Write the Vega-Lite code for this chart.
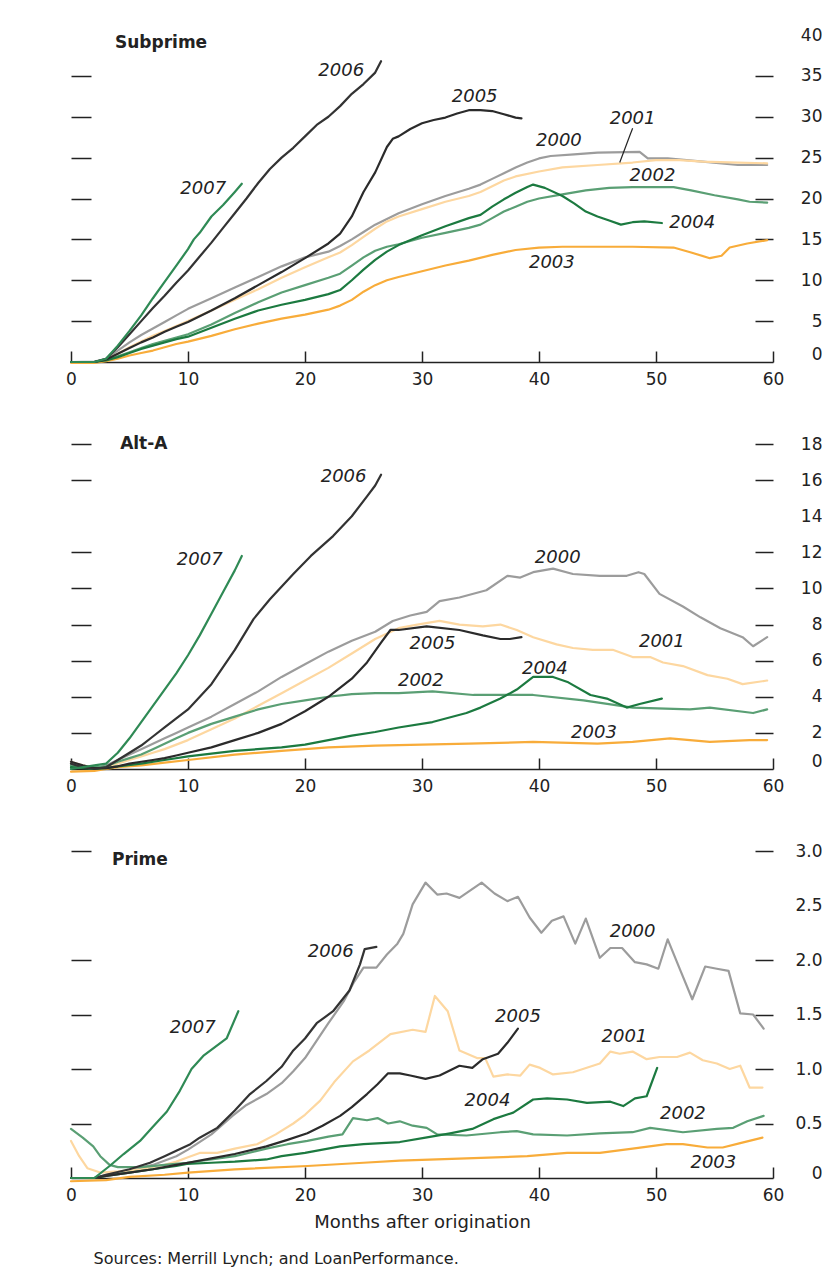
{
"$schema": "https://vega.github.io/schema/vega-lite/v6.json",
"background": "white",
"padding": {"left": 65, "top": 26, "right": 0, "bottom": 0},
"autosize": {"type": "pad"},
"bounds": "flush",
"spacing": 82,
"title": {"text": "Sources: Merrill Lynch; and LoanPerformance.", "orient": "bottom", "anchor": "start", "fontSize": 16, "fontWeight": "normal", "font": "DejaVu Sans", "color": "#222", "offset": 20, "dx": 28},
"datasets": {
"sub": [
{"s":"2000","m":0,"v":0},{"s":"2000","m":2,"v":0.05},{"s":"2000","m":3,"v":0.4},{"s":"2000","m":4,"v":1.4},{"s":"2000","m":5,"v":2.4},{"s":"2000","m":6,"v":3.3},{"s":"2000","m":7,"v":4.1},{"s":"2000","m":8,"v":4.9},{"s":"2000","m":9,"v":5.7},{"s":"2000","m":10,"v":6.5},{"s":"2000","m":12,"v":7.8},{"s":"2000","m":14,"v":9.1},{"s":"2000","m":16,"v":10.4},{"s":"2000","m":18,"v":11.7},{"s":"2000","m":20,"v":12.8},{"s":"2000","m":22,"v":13.5},{"s":"2000","m":23,"v":14.2},{"s":"2000","m":24,"v":15.0},{"s":"2000","m":25,"v":15.9},{"s":"2000","m":26,"v":16.8},{"s":"2000","m":27,"v":17.5},{"s":"2000","m":28,"v":18.2},{"s":"2000","m":30,"v":19.3},{"s":"2000","m":32,"v":20.3},{"s":"2000","m":34,"v":21.2},{"s":"2000","m":35,"v":21.7},{"s":"2000","m":36,"v":22.4},{"s":"2000","m":37,"v":23.1},{"s":"2000","m":38,"v":23.8},{"s":"2000","m":39,"v":24.4},{"s":"2000","m":40,"v":24.9},{"s":"2000","m":41,"v":25.2},{"s":"2000","m":43,"v":25.4},{"s":"2000","m":45,"v":25.6},{"s":"2000","m":48.6,"v":25.7},{"s":"2000","m":49.3,"v":24.9},{"s":"2000","m":51,"v":24.9},{"s":"2000","m":54,"v":24.5},{"s":"2000","m":57,"v":24.1},{"s":"2000","m":59.5,"v":24.1},
{"s":"2001","m":0,"v":0},{"s":"2001","m":2,"v":0},{"s":"2001","m":3,"v":0.3},{"s":"2001","m":4,"v":1.0},{"s":"2001","m":5,"v":1.8},{"s":"2001","m":6,"v":2.5},{"s":"2001","m":7,"v":3.2},{"s":"2001","m":8,"v":3.8},{"s":"2001","m":9,"v":4.4},{"s":"2001","m":10,"v":5.0},{"s":"2001","m":12,"v":6.3},{"s":"2001","m":14,"v":7.6},{"s":"2001","m":16,"v":8.9},{"s":"2001","m":18,"v":10.3},{"s":"2001","m":20,"v":11.6},{"s":"2001","m":22,"v":12.8},{"s":"2001","m":23,"v":13.4},{"s":"2001","m":24,"v":14.3},{"s":"2001","m":25,"v":15.3},{"s":"2001","m":26,"v":16.3},{"s":"2001","m":27,"v":17.2},{"s":"2001","m":28,"v":17.8},{"s":"2001","m":30,"v":18.7},{"s":"2001","m":32,"v":19.6},{"s":"2001","m":34,"v":20.3},{"s":"2001","m":35,"v":20.8},{"s":"2001","m":36,"v":21.5},{"s":"2001","m":37,"v":22.2},{"s":"2001","m":38,"v":22.7},{"s":"2001","m":40,"v":23.3},{"s":"2001","m":42,"v":23.8},{"s":"2001","m":45,"v":24.1},{"s":"2001","m":48,"v":24.4},{"s":"2001","m":50,"v":24.7},{"s":"2001","m":52,"v":24.7},{"s":"2001","m":54,"v":24.5},{"s":"2001","m":57,"v":24.4},{"s":"2001","m":59.5,"v":24.3},
{"s":"2002","m":0,"v":0},{"s":"2002","m":2,"v":0},{"s":"2002","m":3,"v":0.2},{"s":"2002","m":4,"v":0.7},{"s":"2002","m":5,"v":1.2},{"s":"2002","m":6,"v":1.7},{"s":"2002","m":7,"v":2.2},{"s":"2002","m":8,"v":2.6},{"s":"2002","m":9,"v":3.0},{"s":"2002","m":10,"v":3.4},{"s":"2002","m":12,"v":4.6},{"s":"2002","m":14,"v":6.0},{"s":"2002","m":16,"v":7.3},{"s":"2002","m":18,"v":8.5},{"s":"2002","m":20,"v":9.4},{"s":"2002","m":22,"v":10.3},{"s":"2002","m":23,"v":10.8},{"s":"2002","m":24,"v":11.8},{"s":"2002","m":25,"v":12.8},{"s":"2002","m":26,"v":13.6},{"s":"2002","m":27,"v":14.1},{"s":"2002","m":28,"v":14.4},{"s":"2002","m":30,"v":15.2},{"s":"2002","m":32,"v":15.8},{"s":"2002","m":34,"v":16.4},{"s":"2002","m":35,"v":16.8},{"s":"2002","m":36,"v":17.6},{"s":"2002","m":37,"v":18.4},{"s":"2002","m":38,"v":19.0},{"s":"2002","m":39,"v":19.6},{"s":"2002","m":40,"v":20.0},{"s":"2002","m":42,"v":20.5},{"s":"2002","m":44,"v":21.0},{"s":"2002","m":46,"v":21.3},{"s":"2002","m":48,"v":21.4},{"s":"2002","m":51.5,"v":21.4},{"s":"2002","m":53,"v":21.0},{"s":"2002","m":55,"v":20.4},{"s":"2002","m":57,"v":19.9},{"s":"2002","m":58,"v":19.6},{"s":"2002","m":59.5,"v":19.5},
{"s":"2003","m":0,"v":-0.1},{"s":"2003","m":2,"v":-0.1},{"s":"2003","m":3,"v":0.1},{"s":"2003","m":4,"v":0.4},{"s":"2003","m":5,"v":0.8},{"s":"2003","m":6,"v":1.1},{"s":"2003","m":7,"v":1.4},{"s":"2003","m":8,"v":1.8},{"s":"2003","m":9,"v":2.2},{"s":"2003","m":10,"v":2.5},{"s":"2003","m":12,"v":3.2},{"s":"2003","m":14,"v":4.0},{"s":"2003","m":16,"v":4.7},{"s":"2003","m":18,"v":5.3},{"s":"2003","m":20,"v":5.8},{"s":"2003","m":22,"v":6.4},{"s":"2003","m":23,"v":6.9},{"s":"2003","m":24,"v":7.6},{"s":"2003","m":25,"v":8.6},{"s":"2003","m":26,"v":9.4},{"s":"2003","m":27,"v":10.0},{"s":"2003","m":28,"v":10.4},{"s":"2003","m":30,"v":11.1},{"s":"2003","m":32,"v":11.8},{"s":"2003","m":34,"v":12.4},{"s":"2003","m":36,"v":13.1},{"s":"2003","m":38,"v":13.7},{"s":"2003","m":40,"v":14.0},{"s":"2003","m":42,"v":14.1},{"s":"2003","m":48,"v":14.1},{"s":"2003","m":51.5,"v":14.0},{"s":"2003","m":53,"v":13.4},{"s":"2003","m":54.6,"v":12.7},{"s":"2003","m":55.6,"v":13.0},{"s":"2003","m":56.3,"v":14.0},{"s":"2003","m":57.8,"v":14.5},{"s":"2003","m":59.5,"v":14.9},
{"s":"2004","m":0,"v":0},{"s":"2004","m":2,"v":0},{"s":"2004","m":3,"v":0.2},{"s":"2004","m":4,"v":0.6},{"s":"2004","m":5,"v":1.1},{"s":"2004","m":6,"v":1.6},{"s":"2004","m":7,"v":2.0},{"s":"2004","m":8,"v":2.4},{"s":"2004","m":9,"v":2.8},{"s":"2004","m":10,"v":3.1},{"s":"2004","m":12,"v":4.2},{"s":"2004","m":14,"v":5.3},{"s":"2004","m":16,"v":6.3},{"s":"2004","m":18,"v":7.0},{"s":"2004","m":20,"v":7.6},{"s":"2004","m":22,"v":8.3},{"s":"2004","m":23,"v":8.8},{"s":"2004","m":24,"v":10.0},{"s":"2004","m":25,"v":11.3},{"s":"2004","m":26,"v":12.5},{"s":"2004","m":27,"v":13.5},{"s":"2004","m":28,"v":14.3},{"s":"2004","m":30,"v":15.5},{"s":"2004","m":32,"v":16.6},{"s":"2004","m":34,"v":17.6},{"s":"2004","m":35,"v":18.0},{"s":"2004","m":36,"v":19.0},{"s":"2004","m":37,"v":19.9},{"s":"2004","m":38,"v":20.7},{"s":"2004","m":39,"v":21.4},{"s":"2004","m":39.5,"v":21.7},{"s":"2004","m":40.5,"v":21.3},{"s":"2004","m":42,"v":20.3},{"s":"2004","m":43,"v":19.4},{"s":"2004","m":44,"v":18.4},{"s":"2004","m":45,"v":17.8},{"s":"2004","m":46,"v":17.3},{"s":"2004","m":47,"v":16.8},{"s":"2004","m":48,"v":17.1},{"s":"2004","m":49,"v":17.2},{"s":"2004","m":50.5,"v":17.0},
{"s":"2005","m":0,"v":0},{"s":"2005","m":2,"v":0},{"s":"2005","m":3,"v":0.3},{"s":"2005","m":4,"v":1.0},{"s":"2005","m":5,"v":1.7},{"s":"2005","m":6,"v":2.4},{"s":"2005","m":7,"v":3.0},{"s":"2005","m":8,"v":3.7},{"s":"2005","m":9,"v":4.3},{"s":"2005","m":10,"v":4.9},{"s":"2005","m":12,"v":6.3},{"s":"2005","m":14,"v":7.8},{"s":"2005","m":16,"v":9.4},{"s":"2005","m":18,"v":11.0},{"s":"2005","m":20,"v":12.7},{"s":"2005","m":22,"v":14.5},{"s":"2005","m":23,"v":15.7},{"s":"2005","m":24,"v":17.8},{"s":"2005","m":25,"v":20.8},{"s":"2005","m":26,"v":23.2},{"s":"2005","m":27,"v":26.3},{"s":"2005","m":27.5,"v":27.3},{"s":"2005","m":28,"v":27.6},{"s":"2005","m":29,"v":28.5},{"s":"2005","m":30,"v":29.2},{"s":"2005","m":31,"v":29.6},{"s":"2005","m":32,"v":29.9},{"s":"2005","m":33,"v":30.4},{"s":"2005","m":34,"v":30.8},{"s":"2005","m":35,"v":30.8},{"s":"2005","m":36,"v":30.7},{"s":"2005","m":37,"v":30.3},{"s":"2005","m":38,"v":29.9},{"s":"2005","m":38.5,"v":29.8},
{"s":"2006","m":0,"v":0},{"s":"2006","m":2,"v":0},{"s":"2006","m":3,"v":0.4},{"s":"2006","m":4,"v":1.8},{"s":"2006","m":5,"v":3.4},{"s":"2006","m":6,"v":5.0},{"s":"2006","m":7,"v":6.6},{"s":"2006","m":8,"v":8.1},{"s":"2006","m":9,"v":9.7},{"s":"2006","m":10,"v":11.2},{"s":"2006","m":11,"v":12.9},{"s":"2006","m":12,"v":14.6},{"s":"2006","m":13,"v":16.4},{"s":"2006","m":14,"v":18.2},{"s":"2006","m":15,"v":20.0},{"s":"2006","m":16,"v":21.9},{"s":"2006","m":17,"v":23.6},{"s":"2006","m":18,"v":25.0},{"s":"2006","m":19,"v":26.2},{"s":"2006","m":20,"v":27.6},{"s":"2006","m":21,"v":29.0},{"s":"2006","m":22,"v":30.0},{"s":"2006","m":23,"v":31.3},{"s":"2006","m":24,"v":32.8},{"s":"2006","m":25,"v":34.0},{"s":"2006","m":26,"v":35.4},{"s":"2006","m":26.5,"v":36.8},
{"s":"2007","m":0,"v":0},{"s":"2007","m":2,"v":0},{"s":"2007","m":3,"v":0.4},{"s":"2007","m":4,"v":2.0},{"s":"2007","m":5,"v":3.8},{"s":"2007","m":6,"v":5.7},{"s":"2007","m":7,"v":7.8},{"s":"2007","m":8,"v":9.8},{"s":"2007","m":9,"v":11.8},{"s":"2007","m":10,"v":13.8},{"s":"2007","m":10.5,"v":15.0},{"s":"2007","m":11,"v":15.8},{"s":"2007","m":12,"v":17.8},{"s":"2007","m":13,"v":19.2},{"s":"2007","m":14,"v":20.8},{"s":"2007","m":14.6,"v":21.8}
],
"alt": [
{"s":"2000","m":0,"v":0.3},{"s":"2000","m":1,"v":0.1},{"s":"2000","m":2,"v":0},{"s":"2000","m":3,"v":0.2},{"s":"2000","m":4,"v":0.5},{"s":"2000","m":5,"v":0.8},{"s":"2000","m":6,"v":1.1},{"s":"2000","m":7,"v":1.4},{"s":"2000","m":8,"v":1.7},{"s":"2000","m":9,"v":2.0},{"s":"2000","m":10,"v":2.3},{"s":"2000","m":12,"v":2.9},{"s":"2000","m":14,"v":3.6},{"s":"2000","m":16,"v":4.3},{"s":"2000","m":18,"v":5.1},{"s":"2000","m":20,"v":5.8},{"s":"2000","m":22,"v":6.5},{"s":"2000","m":24,"v":7.1},{"s":"2000","m":26,"v":7.6},{"s":"2000","m":27.5,"v":8.2},{"s":"2000","m":29,"v":8.5},{"s":"2000","m":30.4,"v":8.7},{"s":"2000","m":31.5,"v":9.3},{"s":"2000","m":33.2,"v":9.5},{"s":"2000","m":35.5,"v":9.9},{"s":"2000","m":37.3,"v":10.7},{"s":"2000","m":38.4,"v":10.6},{"s":"2000","m":39.5,"v":10.9},{"s":"2000","m":41.2,"v":11.1},{"s":"2000","m":42.9,"v":10.8},{"s":"2000","m":45.2,"v":10.7},{"s":"2000","m":47.5,"v":10.7},{"s":"2000","m":48.5,"v":10.9},{"s":"2000","m":49,"v":10.8},{"s":"2000","m":50.3,"v":9.7},{"s":"2000","m":52.3,"v":9.0},{"s":"2000","m":53.8,"v":8.4},{"s":"2000","m":55.5,"v":7.8},{"s":"2000","m":57.4,"v":7.3},{"s":"2000","m":58.3,"v":6.8},{"s":"2000","m":59.5,"v":7.3},
{"s":"2001","m":0,"v":0.4},{"s":"2001","m":1,"v":0.2},{"s":"2001","m":2,"v":0.05},{"s":"2001","m":3,"v":0.1},{"s":"2001","m":4,"v":0.3},{"s":"2001","m":5,"v":0.5},{"s":"2001","m":6,"v":0.7},{"s":"2001","m":7,"v":0.9},{"s":"2001","m":8,"v":1.1},{"s":"2001","m":9,"v":1.35},{"s":"2001","m":10,"v":1.6},{"s":"2001","m":12,"v":2.2},{"s":"2001","m":14,"v":2.8},{"s":"2001","m":16,"v":3.5},{"s":"2001","m":18,"v":4.2},{"s":"2001","m":20,"v":4.9},{"s":"2001","m":22,"v":5.6},{"s":"2001","m":24,"v":6.4},{"s":"2001","m":26,"v":7.2},{"s":"2001","m":28,"v":7.8},{"s":"2001","m":29.6,"v":8.0},{"s":"2001","m":31.5,"v":8.2},{"s":"2001","m":33.2,"v":8.0},{"s":"2001","m":35.2,"v":7.9},{"s":"2001","m":36.7,"v":8.0},{"s":"2001","m":38.1,"v":7.7},{"s":"2001","m":39.5,"v":7.3},{"s":"2001","m":41.5,"v":6.9},{"s":"2001","m":42.9,"v":6.7},{"s":"2001","m":44.6,"v":6.6},{"s":"2001","m":46.3,"v":6.6},{"s":"2001","m":48,"v":6.2},{"s":"2001","m":49.5,"v":6.2},{"s":"2001","m":50.6,"v":5.9},{"s":"2001","m":52.3,"v":5.7},{"s":"2001","m":54.4,"v":5.2},{"s":"2001","m":56.1,"v":5.0},{"s":"2001","m":57.4,"v":4.7},{"s":"2001","m":59.5,"v":4.9},
{"s":"2002","m":0,"v":0.2},{"s":"2002","m":1,"v":0.1},{"s":"2002","m":2,"v":0.1},{"s":"2002","m":3,"v":0.15},{"s":"2002","m":4,"v":0.4},{"s":"2002","m":5,"v":0.6},{"s":"2002","m":6,"v":0.8},{"s":"2002","m":7,"v":1.1},{"s":"2002","m":8,"v":1.4},{"s":"2002","m":9,"v":1.7},{"s":"2002","m":10,"v":2.0},{"s":"2002","m":12,"v":2.5},{"s":"2002","m":14,"v":2.9},{"s":"2002","m":16,"v":3.3},{"s":"2002","m":18,"v":3.6},{"s":"2002","m":20,"v":3.8},{"s":"2002","m":22,"v":4.0},{"s":"2002","m":24,"v":4.15},{"s":"2002","m":26,"v":4.2},{"s":"2002","m":28,"v":4.2},{"s":"2002","m":30.9,"v":4.3},{"s":"2002","m":34.4,"v":4.1},{"s":"2002","m":39.5,"v":4.1},{"s":"2002","m":43.8,"v":3.8},{"s":"2002","m":48,"v":3.4},{"s":"2002","m":52.9,"v":3.3},{"s":"2002","m":54.6,"v":3.4},{"s":"2002","m":58.3,"v":3.1},{"s":"2002","m":59.5,"v":3.3},
{"s":"2003","m":0,"v":-0.15},{"s":"2003","m":2,"v":-0.1},{"s":"2003","m":3,"v":0},{"s":"2003","m":4,"v":0.1},{"s":"2003","m":6,"v":0.2},{"s":"2003","m":8,"v":0.35},{"s":"2003","m":10,"v":0.5},{"s":"2003","m":14,"v":0.8},{"s":"2003","m":18,"v":1.0},{"s":"2003","m":22,"v":1.2},{"s":"2003","m":26,"v":1.3},{"s":"2003","m":30,"v":1.35},{"s":"2003","m":34,"v":1.4},{"s":"2003","m":39.5,"v":1.5},{"s":"2003","m":45,"v":1.4},{"s":"2003","m":48,"v":1.5},{"s":"2003","m":51.2,"v":1.7},{"s":"2003","m":54.6,"v":1.5},{"s":"2003","m":58,"v":1.6},{"s":"2003","m":59.5,"v":1.6},
{"s":"2004","m":0,"v":0.1},{"s":"2004","m":2,"v":0},{"s":"2004","m":3,"v":0.05},{"s":"2004","m":4,"v":0.15},{"s":"2004","m":6,"v":0.3},{"s":"2004","m":8,"v":0.5},{"s":"2004","m":10,"v":0.7},{"s":"2004","m":14,"v":1.0},{"s":"2004","m":18,"v":1.2},{"s":"2004","m":20,"v":1.35},{"s":"2004","m":22,"v":1.6},{"s":"2004","m":24,"v":1.85},{"s":"2004","m":26,"v":2.05},{"s":"2004","m":28,"v":2.3},{"s":"2004","m":30.9,"v":2.6},{"s":"2004","m":33.8,"v":3.1},{"s":"2004","m":35,"v":3.4},{"s":"2004","m":36.7,"v":3.9},{"s":"2004","m":38.1,"v":4.4},{"s":"2004","m":39.5,"v":5.1},{"s":"2004","m":41.2,"v":5.1},{"s":"2004","m":42.5,"v":4.8},{"s":"2004","m":44.4,"v":4.1},{"s":"2004","m":45.8,"v":3.9},{"s":"2004","m":47.5,"v":3.4},{"s":"2004","m":48.6,"v":3.6},{"s":"2004","m":50.5,"v":3.9},
{"s":"2005","m":0,"v":0.4},{"s":"2005","m":1,"v":0.2},{"s":"2005","m":2,"v":0.05},{"s":"2005","m":3,"v":0.05},{"s":"2005","m":4,"v":0.15},{"s":"2005","m":5,"v":0.3},{"s":"2005","m":6,"v":0.4},{"s":"2005","m":7,"v":0.5},{"s":"2005","m":8,"v":0.6},{"s":"2005","m":9,"v":0.75},{"s":"2005","m":10,"v":0.9},{"s":"2005","m":12,"v":1.2},{"s":"2005","m":14,"v":1.6},{"s":"2005","m":16,"v":2.0},{"s":"2005","m":18,"v":2.5},{"s":"2005","m":20,"v":3.2},{"s":"2005","m":22,"v":4.0},{"s":"2005","m":24,"v":5.0},{"s":"2005","m":25.3,"v":5.9},{"s":"2005","m":26.5,"v":7.0},{"s":"2005","m":27.3,"v":7.7},{"s":"2005","m":28,"v":7.7},{"s":"2005","m":30.4,"v":7.9},{"s":"2005","m":33.2,"v":7.7},{"s":"2005","m":35.2,"v":7.4},{"s":"2005","m":36.7,"v":7.2},{"s":"2005","m":37.5,"v":7.2},{"s":"2005","m":38.5,"v":7.3},
{"s":"2006","m":0,"v":0.3},{"s":"2006","m":1,"v":0.1},{"s":"2006","m":2,"v":0},{"s":"2006","m":3,"v":0.1},{"s":"2006","m":4,"v":0.5},{"s":"2006","m":5,"v":0.9},{"s":"2006","m":6,"v":1.3},{"s":"2006","m":7,"v":1.8},{"s":"2006","m":8,"v":2.3},{"s":"2006","m":9,"v":2.8},{"s":"2006","m":10,"v":3.3},{"s":"2006","m":12,"v":4.7},{"s":"2006","m":14,"v":6.6},{"s":"2006","m":15.6,"v":8.3},{"s":"2006","m":17,"v":9.4},{"s":"2006","m":19,"v":10.8},{"s":"2006","m":20.5,"v":11.8},{"s":"2006","m":22.4,"v":12.9},{"s":"2006","m":24,"v":14.0},{"s":"2006","m":25.3,"v":15.1},{"s":"2006","m":26,"v":15.7},{"s":"2006","m":26.5,"v":16.3},
{"s":"2007","m":0,"v":0},{"s":"2007","m":2,"v":0.2},{"s":"2007","m":3,"v":0.3},{"s":"2007","m":4,"v":0.9},{"s":"2007","m":5,"v":1.7},{"s":"2007","m":6,"v":2.6},{"s":"2007","m":7,"v":3.5},{"s":"2007","m":8,"v":4.4},{"s":"2007","m":9,"v":5.3},{"s":"2007","m":10,"v":6.3},{"s":"2007","m":11,"v":7.4},{"s":"2007","m":12,"v":8.6},{"s":"2007","m":13,"v":9.8},{"s":"2007","m":14,"v":11.0},{"s":"2007","m":14.6,"v":11.8}
],
"prime": [
{"s":"2000","m":0,"v":0},{"s":"2000","m":2,"v":0},{"s":"2000","m":3,"v":0.03},{"s":"2000","m":5,"v":0.07},{"s":"2000","m":7,"v":0.12},{"s":"2000","m":9,"v":0.2},{"s":"2000","m":10,"v":0.26},{"s":"2000","m":12,"v":0.4},{"s":"2000","m":13.8,"v":0.57},{"s":"2000","m":15,"v":0.67},{"s":"2000","m":16.7,"v":0.77},{"s":"2000","m":18,"v":0.87},{"s":"2000","m":19,"v":0.98},{"s":"2000","m":20,"v":1.1},{"s":"2000","m":21,"v":1.26},{"s":"2000","m":22,"v":1.42},{"s":"2000","m":23.3,"v":1.62},{"s":"2000","m":24.2,"v":1.8},{"s":"2000","m":25,"v":1.93},{"s":"2000","m":26.1,"v":1.93},{"s":"2000","m":27,"v":2.05},{"s":"2000","m":27.9,"v":2.15},{"s":"2000","m":28.4,"v":2.24},{"s":"2000","m":29.2,"v":2.51},{"s":"2000","m":30.3,"v":2.71},{"s":"2000","m":31.3,"v":2.6},{"s":"2000","m":32.1,"v":2.61},{"s":"2000","m":33.2,"v":2.57},{"s":"2000","m":35.1,"v":2.71},{"s":"2000","m":36.2,"v":2.61},{"s":"2000","m":37.3,"v":2.54},{"s":"2000","m":38.2,"v":2.58},{"s":"2000","m":39.2,"v":2.39},{"s":"2000","m":40.2,"v":2.25},{"s":"2000","m":41.1,"v":2.36},{"s":"2000","m":42.1,"v":2.4},{"s":"2000","m":43.1,"v":2.15},{"s":"2000","m":44,"v":2.38},{"s":"2000","m":45.2,"v":2.02},{"s":"2000","m":46.1,"v":2.11},{"s":"2000","m":47.1,"v":2.11},{"s":"2000","m":48.2,"v":1.98},{"s":"2000","m":49.2,"v":1.96},{"s":"2000","m":50.2,"v":1.92},{"s":"2000","m":51,"v":2.19},{"s":"2000","m":52.1,"v":1.9},{"s":"2000","m":53.1,"v":1.64},{"s":"2000","m":54.2,"v":1.94},{"s":"2000","m":55.2,"v":1.92},{"s":"2000","m":56.2,"v":1.9},{"s":"2000","m":57.2,"v":1.51},{"s":"2000","m":58.3,"v":1.5},{"s":"2000","m":59.2,"v":1.37},
{"s":"2001","m":0,"v":0.34},{"s":"2001","m":0.7,"v":0.2},{"s":"2001","m":1.4,"v":0.09},{"s":"2001","m":2.5,"v":0.05},{"s":"2001","m":4,"v":0.06},{"s":"2001","m":6,"v":0.08},{"s":"2001","m":8,"v":0.12},{"s":"2001","m":9,"v":0.15},{"s":"2001","m":10,"v":0.19},{"s":"2001","m":11,"v":0.23},{"s":"2001","m":12.5,"v":0.23},{"s":"2001","m":14,"v":0.27},{"s":"2001","m":15.9,"v":0.31},{"s":"2001","m":17.5,"v":0.4},{"s":"2001","m":19,"v":0.5},{"s":"2001","m":20,"v":0.58},{"s":"2001","m":21.3,"v":0.71},{"s":"2001","m":22.5,"v":0.88},{"s":"2001","m":24.1,"v":1.07},{"s":"2001","m":25.5,"v":1.17},{"s":"2001","m":27.3,"v":1.32},{"s":"2001","m":29.2,"v":1.36},{"s":"2001","m":30.3,"v":1.34},{"s":"2001","m":31.1,"v":1.67},{"s":"2001","m":32.2,"v":1.53},{"s":"2001","m":33.2,"v":1.17},{"s":"2001","m":34.7,"v":1.1},{"s":"2001","m":35.4,"v":1.1},{"s":"2001","m":36.1,"v":0.93},{"s":"2001","m":37.3,"v":0.95},{"s":"2001","m":38.4,"v":0.94},{"s":"2001","m":39.2,"v":1.04},{"s":"2001","m":40.1,"v":1.01},{"s":"2001","m":41.2,"v":0.95},{"s":"2001","m":42.9,"v":0.97},{"s":"2001","m":45.2,"v":1.05},{"s":"2001","m":46.1,"v":1.16},{"s":"2001","m":46.9,"v":1.14},{"s":"2001","m":48,"v":1.16},{"s":"2001","m":49.2,"v":1.09},{"s":"2001","m":50.3,"v":1.11},{"s":"2001","m":51.8,"v":1.11},{"s":"2001","m":52.9,"v":1.15},{"s":"2001","m":54,"v":1.08},{"s":"2001","m":55.2,"v":1.05},{"s":"2001","m":56.3,"v":1.0},{"s":"2001","m":57.2,"v":1.03},{"s":"2001","m":58,"v":0.83},{"s":"2001","m":59.1,"v":0.83},
{"s":"2002","m":0,"v":0.45},{"s":"2002","m":1,"v":0.37},{"s":"2002","m":1.9,"v":0.29},{"s":"2002","m":2.5,"v":0.2},{"s":"2002","m":3.3,"v":0.12},{"s":"2002","m":4,"v":0.1},{"s":"2002","m":6,"v":0.1},{"s":"2002","m":8,"v":0.12},{"s":"2002","m":9.9,"v":0.14},{"s":"2002","m":12,"v":0.17},{"s":"2002","m":14,"v":0.2},{"s":"2002","m":16.7,"v":0.27},{"s":"2002","m":18.5,"v":0.31},{"s":"2002","m":20.2,"v":0.34},{"s":"2002","m":22,"v":0.38},{"s":"2002","m":23.2,"v":0.4},{"s":"2002","m":24.1,"v":0.55},{"s":"2002","m":25.3,"v":0.53},{"s":"2002","m":26.2,"v":0.55},{"s":"2002","m":27.1,"v":0.5},{"s":"2002","m":28.1,"v":0.52},{"s":"2002","m":29.2,"v":0.48},{"s":"2002","m":30.4,"v":0.46},{"s":"2002","m":31.3,"v":0.4},{"s":"2002","m":33.8,"v":0.39},{"s":"2002","m":36.7,"v":0.42},{"s":"2002","m":38.1,"v":0.43},{"s":"2002","m":39.5,"v":0.4},{"s":"2002","m":42.4,"v":0.39},{"s":"2002","m":45.2,"v":0.41},{"s":"2002","m":48,"v":0.42},{"s":"2002","m":49.5,"v":0.46},{"s":"2002","m":52.3,"v":0.42},{"s":"2002","m":55.2,"v":0.45},{"s":"2002","m":56.6,"v":0.46},{"s":"2002","m":57.8,"v":0.52},{"s":"2002","m":59.2,"v":0.57},
{"s":"2003","m":0,"v":-0.03},{"s":"2003","m":3,"v":-0.02},{"s":"2003","m":5,"v":0.01},{"s":"2003","m":8,"v":0.03},{"s":"2003","m":10,"v":0.05},{"s":"2003","m":14,"v":0.08},{"s":"2003","m":20.2,"v":0.11},{"s":"2003","m":25,"v":0.14},{"s":"2003","m":28.1,"v":0.16},{"s":"2003","m":33.8,"v":0.18},{"s":"2003","m":39,"v":0.2},{"s":"2003","m":42.4,"v":0.23},{"s":"2003","m":45.2,"v":0.23},{"s":"2003","m":48,"v":0.27},{"s":"2003","m":50.9,"v":0.31},{"s":"2003","m":52.3,"v":0.31},{"s":"2003","m":54.4,"v":0.28},{"s":"2003","m":55.7,"v":0.28},{"s":"2003","m":57.2,"v":0.32},{"s":"2003","m":59.1,"v":0.37},
{"s":"2004","m":0,"v":0},{"s":"2004","m":2,"v":0},{"s":"2004","m":3,"v":0.02},{"s":"2004","m":5,"v":0.05},{"s":"2004","m":7,"v":0.08},{"s":"2004","m":9,"v":0.11},{"s":"2004","m":9.9,"v":0.13},{"s":"2004","m":12,"v":0.14},{"s":"2004","m":14,"v":0.15},{"s":"2004","m":16.7,"v":0.17},{"s":"2004","m":18,"v":0.2},{"s":"2004","m":20,"v":0.23},{"s":"2004","m":23,"v":0.29},{"s":"2004","m":25,"v":0.31},{"s":"2004","m":28.1,"v":0.33},{"s":"2004","m":30.3,"v":0.37},{"s":"2004","m":32.4,"v":0.41},{"s":"2004","m":34.3,"v":0.45},{"s":"2004","m":36.1,"v":0.54},{"s":"2004","m":37.8,"v":0.6},{"s":"2004","m":39.5,"v":0.72},{"s":"2004","m":40.7,"v":0.73},{"s":"2004","m":42.4,"v":0.72},{"s":"2004","m":44.1,"v":0.69},{"s":"2004","m":46.1,"v":0.7},{"s":"2004","m":47.2,"v":0.66},{"s":"2004","m":48.2,"v":0.73},{"s":"2004","m":49.2,"v":0.75},{"s":"2004","m":50.1,"v":1.01},
{"s":"2005","m":0,"v":0},{"s":"2005","m":2,"v":0},{"s":"2005","m":3,"v":0.02},{"s":"2005","m":5,"v":0.05},{"s":"2005","m":7,"v":0.08},{"s":"2005","m":9,"v":0.12},{"s":"2005","m":10,"v":0.14},{"s":"2005","m":12,"v":0.18},{"s":"2005","m":14,"v":0.22},{"s":"2005","m":16.7,"v":0.29},{"s":"2005","m":18.5,"v":0.35},{"s":"2005","m":20.2,"v":0.41},{"s":"2005","m":21.5,"v":0.48},{"s":"2005","m":23,"v":0.57},{"s":"2005","m":24,"v":0.65},{"s":"2005","m":25.3,"v":0.77},{"s":"2005","m":26.2,"v":0.86},{"s":"2005","m":27.1,"v":0.96},{"s":"2005","m":28.1,"v":0.96},{"s":"2005","m":29,"v":0.94},{"s":"2005","m":30.3,"v":0.91},{"s":"2005","m":31.5,"v":0.94},{"s":"2005","m":33.2,"v":1.03},{"s":"2005","m":34.3,"v":1.01},{"s":"2005","m":35.2,"v":1.09},{"s":"2005","m":36.5,"v":1.14},{"s":"2005","m":37.3,"v":1.24},{"s":"2005","m":38.2,"v":1.37},
{"s":"2006","m":0,"v":0},{"s":"2006","m":2,"v":0},{"s":"2006","m":3,"v":0.03},{"s":"2006","m":5,"v":0.08},{"s":"2006","m":6.75,"v":0.14},{"s":"2006","m":8,"v":0.2},{"s":"2006","m":9,"v":0.25},{"s":"2006","m":10.2,"v":0.31},{"s":"2006","m":11,"v":0.37},{"s":"2006","m":12.5,"v":0.46},{"s":"2006","m":14,"v":0.62},{"s":"2006","m":15.3,"v":0.77},{"s":"2006","m":16.7,"v":0.89},{"s":"2006","m":18,"v":1.02},{"s":"2006","m":19,"v":1.17},{"s":"2006","m":20,"v":1.28},{"s":"2006","m":21,"v":1.42},{"s":"2006","m":22.4,"v":1.53},{"s":"2006","m":23.8,"v":1.72},{"s":"2006","m":24.7,"v":1.96},{"s":"2006","m":25.1,"v":2.1},{"s":"2006","m":26.1,"v":2.12},
{"s":"2007","m":0,"v":0},{"s":"2007","m":2,"v":0},{"s":"2007","m":3.3,"v":0.11},{"s":"2007","m":4.5,"v":0.22},{"s":"2007","m":5.9,"v":0.34},{"s":"2007","m":7,"v":0.47},{"s":"2007","m":8.2,"v":0.61},{"s":"2007","m":9.3,"v":0.8},{"s":"2007","m":10.3,"v":1.0},{"s":"2007","m":11.3,"v":1.12},{"s":"2007","m":12.3,"v":1.2},{"s":"2007","m":13.3,"v":1.28},{"s":"2007","m":14.3,"v":1.53}
],
"lab": [
{"p":"sub","s":"2006","m":23.1,"v":35.6},{"p":"sub","s":"2005","m":34.5,"v":32.4},{"p":"sub","s":"2001","m":48,"v":29.7},{"p":"sub","s":"2000","m":41.7,"v":27.0},{"p":"sub","s":"2007","m":11.3,"v":21.2},{"p":"sub","s":"2002","m":49.7,"v":22.7},{"p":"sub","s":"2004","m":53.1,"v":17.0},{"p":"sub","s":"2003","m":41.1,"v":12.1},
{"p":"alt","s":"2006","m":23.3,"v":16.2},{"p":"alt","s":"2007","m":11,"v":11.6},{"p":"alt","s":"2000","m":41.6,"v":11.7},{"p":"alt","s":"2005","m":30.9,"v":6.9},{"p":"alt","s":"2001","m":50.5,"v":7.05},{"p":"alt","s":"2004","m":40.5,"v":5.55},{"p":"alt","s":"2002","m":29.9,"v":4.9},{"p":"alt","s":"2003","m":44.7,"v":2.0},
{"p":"prime","s":"2006","m":22.2,"v":2.07},{"p":"prime","s":"2007","m":10.4,"v":1.38},{"p":"prime","s":"2000","m":48,"v":2.26},{"p":"prime","s":"2005","m":38.2,"v":1.48},{"p":"prime","s":"2001","m":47.3,"v":1.29},{"p":"prime","s":"2004","m":35.6,"v":0.71},{"p":"prime","s":"2002","m":52.3,"v":0.59},{"p":"prime","s":"2003","m":54.9,"v":0.14}
],
"ttl": [
{"p":"sub","t":"Subprime","m":3.76,"v":39.0},{"p":"alt","t":"Alt-A","m":4.2,"v":18.0},{"p":"prime","t":"Prime","m":3.5,"v":2.92}
]
},
"vconcat": [
{
"width": 702, "height": 327,
"layer": [
{"data": {"name": "sub"}, "mark": {"type": "line", "strokeCap": "round", "strokeJoin": "round"},
"encoding": {
"x": {"field": "m", "type": "quantitative", "scale": {"domain": [0, 60], "nice": false, "zero": false}, "axis": {"values": [0,10,20,30,40,50,60], "tickSize": -11, "tickWidth": 1.5, "domainWidth": 1.5, "labelPadding": 20, "title": null, "labelFlush": false, "format": "d"}},
"y": {"field": "v", "type": "quantitative", "scale": {"domain": [0, 40], "nice": false, "zero": false}, "axis": {"orient": "right", "values": [0,5,10,15,20,25,30,35,40], "domain": false, "tickSize": -18, "tickWidth": 1.5, "labelAlign": "right", "labelBaseline": "middle", "labelPadding": 67, "title": null, "labelFlush": false, "tickOpacity": {"condition": {"test": "datum.value == 0 || datum.value == 40", "value": 0}, "value": 1}, "labelOffset": {"condition": {"test": "datum.value == 0", "value": -8}, "value": 0}}},
"color": {"field": "s", "type": "nominal", "scale": {"domain": ["2000","2001","2002","2003","2004","2005","2006","2007"], "range": ["#9c9c9c","#fdd7a0","#5a9f74","#f8ac3a","#1c7a40","#2b2b2b","#333333","#2f8a55"]}, "legend": null},
"strokeWidth": {"field": "s", "type": "nominal", "scale": {"domain": ["2000","2001","2002","2003","2004","2005","2006","2007"], "range": [2.2,2.2,2,2,2.2,2.2,1.3,1.3]}, "legend": null},
"order": {"field": "m", "type": "quantitative"}
}},
{"data": {"name": "lab"}, "transform": [{"filter": "datum.p == 'sub'"}], "mark": {"type": "text", "fontStyle": "italic", "fontSize": 18, "font": "DejaVu Sans", "color": "#222"},
"encoding": {"x": {"field": "m", "type": "quantitative"}, "y": {"field": "v", "type": "quantitative", "axis": {"orient": "left", "values": [0,5,10,15,20,25,30,35,40], "domain": false, "labels": false, "tickSize": -20, "tickWidth": 1.5, "title": null, "tickOpacity": {"condition": {"test": "datum.value == 0 || datum.value == 40", "value": 0}, "value": 1}}}, "text": {"field": "s"}}},
{"data": {"name": "ttl"}, "transform": [{"filter": "datum.p == 'sub'"}], "mark": {"type": "text", "fontWeight": "bold", "fontSize": 17, "font": "DejaVu Sans", "align": "left", "baseline": "middle", "color": "#222"},
"encoding": {"x": {"field": "m", "type": "quantitative"}, "y": {"field": "v", "type": "quantitative", "axis": null}, "text": {"field": "t"}}},
{"data": {"values": [{"m": 48.0, "v": 28.6, "m2": 46.9, "v2": 24.4}]}, "mark": {"type": "rule", "color": "#222", "strokeWidth": 1.2},
"encoding": {"x": {"field": "m", "type": "quantitative"}, "y": {"field": "v", "type": "quantitative", "axis": null}, "x2": {"field": "m2"}, "y2": {"field": "v2"}}}
],
"resolve": {"axis": {"y": "independent"}}
},
{
"width": 702, "height": 325,
"layer": [
{"data": {"name": "alt"}, "mark": {"type": "line", "strokeCap": "round", "strokeJoin": "round"},
"encoding": {
"x": {"field": "m", "type": "quantitative", "scale": {"domain": [0, 60], "nice": false, "zero": false}, "axis": {"values": [0,10,20,30,40,50,60], "tickSize": -11, "tickWidth": 1.5, "domainWidth": 1.5, "labelPadding": 20, "title": null, "labelFlush": false, "format": "d"}},
"y": {"field": "v", "type": "quantitative", "scale": {"domain": [0, 18], "nice": false, "zero": false}, "axis": {"orient": "right", "values": [0,2,4,6,8,10,12,14,16,18], "domain": false, "tickSize": -18, "tickWidth": 1.5, "labelAlign": "right", "labelBaseline": "middle", "labelPadding": 67, "title": null, "labelFlush": false, "tickOpacity": {"condition": {"test": "datum.value == 0 || datum.value == 14", "value": 0}, "value": 1}, "labelOffset": {"condition": {"test": "datum.value == 0", "value": -8}, "value": 0}}},
"color": {"field": "s", "type": "nominal", "scale": {"domain": ["2000","2001","2002","2003","2004","2005","2006","2007"], "range": ["#9c9c9c","#fdd7a0","#5a9f74","#f8ac3a","#1c7a40","#2b2b2b","#333333","#2f8a55"]}, "legend": null},
"strokeWidth": {"field": "s", "type": "nominal", "scale": {"domain": ["2000","2001","2002","2003","2004","2005","2006","2007"], "range": [2.2,2.2,2,2,2.2,2.2,1.3,1.3]}, "legend": null},
"order": {"field": "m", "type": "quantitative"}
}},
{"data": {"name": "lab"}, "transform": [{"filter": "datum.p == 'alt'"}], "mark": {"type": "text", "fontStyle": "italic", "fontSize": 18, "font": "DejaVu Sans", "color": "#222"},
"encoding": {"x": {"field": "m", "type": "quantitative"}, "y": {"field": "v", "type": "quantitative", "axis": {"orient": "left", "values": [0,2,4,6,8,10,12,14,16,18], "domain": false, "labels": false, "tickSize": -20, "tickWidth": 1.5, "title": null, "tickOpacity": {"condition": {"test": "datum.value == 0 || datum.value == 14", "value": 0}, "value": 1}}}, "text": {"field": "s"}}},
{"data": {"name": "ttl"}, "transform": [{"filter": "datum.p == 'alt'"}], "mark": {"type": "text", "fontWeight": "bold", "fontSize": 17, "font": "DejaVu Sans", "align": "left", "baseline": "middle", "color": "#222"},
"encoding": {"x": {"field": "m", "type": "quantitative"}, "y": {"field": "v", "type": "quantitative", "axis": null}, "text": {"field": "t"}}}
],
"resolve": {"axis": {"y": "independent"}}
},
{
"width": 702, "height": 327,
"layer": [
{"data": {"name": "prime"}, "mark": {"type": "line", "strokeCap": "round", "strokeJoin": "round"},
"encoding": {
"x": {"field": "m", "type": "quantitative", "scale": {"domain": [0, 60], "nice": false, "zero": false}, "axis": {"values": [0,10,20,30,40,50,60], "tickSize": -11, "tickWidth": 1.5, "domainWidth": 1.5, "labelPadding": 20, "title": "Months after origination", "titlePadding": 10, "labelFlush": false, "format": "d"}},
"y": {"field": "v", "type": "quantitative", "scale": {"domain": [0, 3], "nice": false, "zero": false}, "axis": {"orient": "right", "values": [0,0.5,1,1.5,2,2.5,3], "labelExpr": "datum.value == 0 ? '0' : format(datum.value, '.1f')", "domain": false, "tickSize": -18, "tickWidth": 1.5, "labelAlign": "right", "labelBaseline": "middle", "labelPadding": 67, "title": null, "labelFlush": false, "tickOpacity": {"condition": {"test": "datum.value == 0 || datum.value == 2.5", "value": 0}, "value": 1}, "labelOffset": {"condition": {"test": "datum.value == 0", "value": -5}, "value": 0}}},
"color": {"field": "s", "type": "nominal", "scale": {"domain": ["2000","2001","2002","2003","2004","2005","2006","2007"], "range": ["#9c9c9c","#fdd7a0","#5a9f74","#f8ac3a","#1c7a40","#2b2b2b","#333333","#2f8a55"]}, "legend": null},
"strokeWidth": {"field": "s", "type": "nominal", "scale": {"domain": ["2000","2001","2002","2003","2004","2005","2006","2007"], "range": [2.2,2.2,2,2,2.2,2.2,1.3,1.3]}, "legend": null},
"order": {"field": "m", "type": "quantitative"}
}},
{"data": {"name": "lab"}, "transform": [{"filter": "datum.p == 'prime'"}], "mark": {"type": "text", "fontStyle": "italic", "fontSize": 18, "font": "DejaVu Sans", "color": "#222"},
"encoding": {"x": {"field": "m", "type": "quantitative"}, "y": {"field": "v", "type": "quantitative", "axis": {"orient": "left", "values": [0,0.5,1,1.5,2,2.5,3], "domain": false, "labels": false, "tickSize": -20, "tickWidth": 1.5, "title": null, "tickOpacity": {"condition": {"test": "datum.value == 0 || datum.value == 2.5", "value": 0}, "value": 1}}}, "text": {"field": "s"}}},
{"data": {"name": "ttl"}, "transform": [{"filter": "datum.p == 'prime'"}], "mark": {"type": "text", "fontWeight": "bold", "fontSize": 17, "font": "DejaVu Sans", "align": "left", "baseline": "middle", "color": "#222"},
"encoding": {"x": {"field": "m", "type": "quantitative"}, "y": {"field": "v", "type": "quantitative", "axis": null}, "text": {"field": "t"}}}
],
"resolve": {"axis": {"y": "independent"}}
}
],
"config": {
"view": {"stroke": null},
"axis": {"grid": false, "labelFont": "DejaVu Sans", "labelFontSize": 17, "labelColor": "#222", "domainColor": "#222", "tickColor": "#222", "titleFont": "DejaVu Sans", "titleFontWeight": "normal", "titleFontSize": 18, "titleColor": "#222"},
"text": {"font": "DejaVu Sans"}
}
}
